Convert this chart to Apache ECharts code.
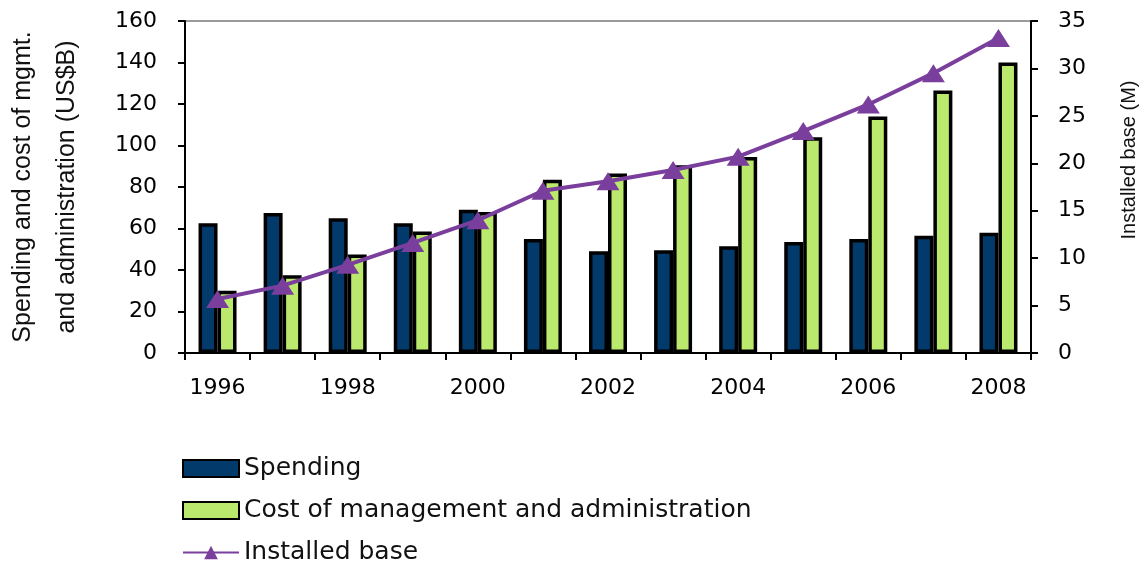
<!DOCTYPE html>
<html>
<head>
<meta charset="utf-8">
<script src="https://cdn.jsdelivr.net/npm/echarts@6/dist/echarts.min.js"></script>
<style>
html,body{margin:0;padding:0;background:#fff;}
#chart{width:1146px;height:561px;}
</style>
</head>
<body>
<div id="chart"></div>
<script>
var years = ['1996','1997','1998','1999','2000','2001','2002','2003','2004','2005','2006','2007','2008'];
var spending = [62.5, 67.5, 65, 62.5, 69, 55, 49, 49.5, 51.5, 53.5, 55, 56.5, 58];
var costMgmt = [30, 37.5, 47.5, 58.5, 68, 83.5, 86.5, 90.5, 94.5, 104, 114, 126.5, 140];
var installedBase = [5.7, 7.1, 9.3, 11.6, 14.0, 17.1, 18.1, 19.3, 20.7, 23.4, 26.2, 29.5, 33.2];
var leftTicks = {min: 0, max: 160, interval: 20};
var rightTicks = {min: 0, max: 35, interval: 5};

var chart = echarts.init(document.getElementById('chart'));
var tickFont = {fontFamily: 'DejaVu Sans', fontSize: 22, color: '#000'};
chart.setOption({
  animation: false,
  backgroundColor: '#fff',
  grid: {left: 185, right: 115, top: 21, bottom: 208, show: true, borderColor: '#9a9a9a', borderWidth: 2, outerBoundsMode: 'none', containLabel: false},
  legend: {
    orient: 'vertical', left: 177, top: 451, height: 120, itemWidth: 56, itemHeight: 17, itemGap: 17,
    textStyle: {fontFamily: 'DejaVu Sans', fontSize: 25, color: '#111', lineHeight: 24},
    data: [
      {name: 'Spending', icon: 'rect'},
      {name: 'Cost of management and administration', icon: 'rect'},
      {name: 'Installed base'}
    ]
  },
  xAxis: {
    type: 'category', data: years,
    axisLine: {lineStyle: {color: '#000', width: 2}},
    axisTick: {show: true, interval: 0, length: 7, lineStyle: {color: '#000', width: 2}},
    axisLabel: Object.assign({interval: 1, margin: 24}, tickFont)
  },
  yAxis: [{
    type: 'value', min: leftTicks.min, max: leftTicks.max, interval: leftTicks.interval,
    name: 'Spending and cost of mgmt.\nand administration (US$B)',
    nameLocation: 'middle', nameRotate: 90, nameGap: 96,
    nameTextStyle: {fontFamily: 'Liberation Sans', fontSize: 25, color: '#111', lineHeight: 44},
    axisLine: {show: true, lineStyle: {color: '#000', width: 2}},
    axisTick: {show: true, length: 7, lineStyle: {color: '#000', width: 2}},
    axisLabel: Object.assign({margin: 28}, tickFont),
    splitLine: {show: false}
  }, {
    type: 'value', min: rightTicks.min, max: rightTicks.max, interval: rightTicks.interval,
    position: 'right',
    name: 'Installed base (M)',
    nameLocation: 'middle', nameRotate: 90, nameGap: 88,
    nameTextStyle: {fontFamily: 'Liberation Sans', fontSize: 20, color: '#111', padding: [0, 0, 0, 54]},
    axisLine: {show: true, lineStyle: {color: '#000', width: 2}},
    axisTick: {show: true, length: 7, lineStyle: {color: '#000', width: 2}},
    axisLabel: Object.assign({margin: 27}, tickFont),
    splitLine: {show: false}
  }],
  series: [{
    name: 'Spending', type: 'bar', data: spending, barWidth: 19, barGap: '0%',
    itemStyle: {color: '#013A6B', borderColor: '#000', borderWidth: 3.5}
  }, {
    name: 'Cost of management and administration', type: 'bar', data: costMgmt, barWidth: 19,
    itemStyle: {color: '#BBE96E', borderColor: '#000', borderWidth: 3.5}
  }, {
    name: 'Installed base', type: 'line', yAxisIndex: 1, data: installedBase,
    symbol: 'triangle', symbolSize: [23, 18],
    lineStyle: {color: '#7A3E9D', width: 4},
    itemStyle: {color: '#7A3E9D'}
  }]
});
</script>
</body>
</html>
